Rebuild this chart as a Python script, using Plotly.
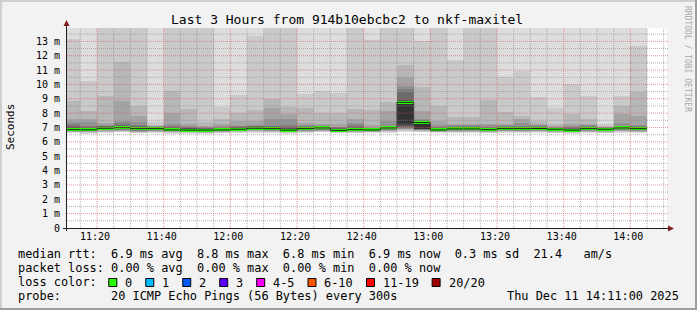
import plotly.graph_objects as go
import pandas as pd

# ---------------- data ----------------
bin_starts = pd.date_range('2025-12-11 11:10:00', periods=35, freq='5min')

median_rtt = [6.85, 6.84, 6.95, 6.99, 6.92, 6.92, 6.83, 6.82, 6.82, 6.83, 6.88, 6.95, 6.92, 6.82, 6.92, 6.97, 6.80,
              6.85, 6.83, 6.97, 8.75, 7.34, 6.83, 6.90, 6.90, 6.85, 6.92, 6.92, 6.93, 6.88, 6.82, 6.92, 6.88, 6.97, 6.92]
# upper part of the ping distribution (sorted pings 12..20 of 20)
p12 = [6.95, 6.92, 7.00, 7.05, 6.97, 6.95, 6.90, 6.88, 6.86, 6.88, 6.93, 6.99, 6.97, 6.88, 6.96, 7.00, 6.86,
       6.90, 6.87, 7.02, 8.85, 7.38, 6.87, 6.94, 6.94, 6.90, 6.96, 6.96, 6.97, 6.91, 6.87, 6.96, 6.91, 7.00, 6.96]
p13 = [7.03, 6.98, 7.04, 7.12, 7.02, 6.98, 6.96, 6.94, 6.90, 6.93, 6.98, 7.03, 7.02, 6.94, 7.00, 7.03, 6.92,
       6.96, 6.90, 7.06, 8.95, 7.42, 6.92, 6.98, 6.98, 6.95, 7.00, 7.00, 7.00, 6.94, 6.92, 7.00, 6.94, 7.04, 7.00]
p14 = [7.13, 7.05, 7.08, 7.20, 7.08, 7.02, 7.01, 7.00, 6.95, 6.97, 7.03, 7.08, 7.07, 7.01, 7.06, 7.06, 6.98,
       7.03, 6.94, 7.10, 9.45, 7.45, 6.96, 7.03, 7.03, 7.00, 7.05, 7.05, 7.04, 6.97, 6.97, 7.04, 6.97, 7.08, 7.05]
p15 = [7.25, 7.13, 7.12, 7.28, 7.15, 7.06, 7.10, 7.06, 7.00, 7.00, 7.08, 7.13, 7.13, 7.20, 7.13, 7.10, 7.03,
       7.15, 6.97, 7.13, 9.70, 7.50, 7.01, 7.08, 7.08, 7.05, 7.10, 7.13, 7.08, 7.00, 7.02, 7.10, 7.00, 7.13, 7.10]
p16 = [7.36, 7.36, 7.20, 7.48, 7.36, 7.10, 7.25, 7.12, 7.06, 7.10, 7.13, 7.20, 7.59, 7.59, 7.20, 7.15, 7.06,
       7.30, 7.00, 7.48, 9.91, 7.59, 7.20, 7.15, 7.15, 7.15, 7.15, 7.30, 7.15, 7.01, 7.10, 7.18, 7.02, 7.30, 7.20]
p17 = [7.59, 7.59, 7.34, 8.87, 7.83, 7.13, 7.99, 7.25, 7.13, 7.25, 7.48, 7.48, 8.36, 7.94, 7.34, 7.25, 7.25,
       7.59, 7.20, 8.13, 10.49, 8.13, 7.48, 7.25, 7.25, 7.25, 7.25, 7.59, 7.25, 7.10, 7.25, 7.25, 7.05, 7.94, 7.83]
p18 = [8.87, 8.13, 9.22, 11.53, 8.52, 7.20, 9.56, 8.29, 7.36, 7.59, 7.99, 8.22, 8.98, 8.45, 8.36, 7.99, 7.99,
       8.29, 8.22, 8.75, 11.37, 9.84, 8.52, 7.71, 7.71, 8.91, 8.06, 7.83, 7.48, 7.25, 7.94, 7.60, 7.10, 8.52, 9.45]
p19 = [13.16, 10.26, 15.0, 15.0, 15.0, 7.36, 15.0, 15.0, 15.0, 8.40, 9.27, 13.39, 15.0, 15.0, 9.33, 9.56, 9.38,
       15.0, 13.09, 15.0, 15.0, 13.04, 15.0, 11.70, 15.0, 15.0, 10.49, 10.97, 9.10, 8.36, 10.03, 9.22, 7.25, 9.22, 12.69]
p20 = [16.0, 16.0, 16.0, 16.0, 16.0, 16.0, 16.0, 16.0, 16.0, 16.0, 16.0, 16.0, 16.0, 16.0, 16.0, 16.0, 16.0,
       16.0, 16.0, 16.0, 16.0, 16.0, 16.0, 16.0, 16.0, 16.0, 16.0, 16.0, 16.0, 16.0, 16.0, 16.0, 16.0, 16.0, 16.0]
# lower part of the ping distribution (sorted pings 1..10 of 20)
p01 = [6.62, 6.58, 6.62, 6.66, 6.60, 6.62, 6.58, 6.56, 6.55, 6.60, 6.62, 6.64, 6.62, 6.58, 6.60, 6.66, 6.60,
       6.60, 6.62, 6.64, 6.70, 6.66, 6.62, 6.60, 6.62, 6.60, 6.64, 6.62, 6.64, 6.60, 6.58, 6.62, 6.60, 6.64, 6.62]
p02 = [6.66, 6.63, 6.67, 6.71, 6.65, 6.67, 6.64, 6.62, 6.61, 6.65, 6.67, 6.70, 6.67, 6.63, 6.66, 6.71, 6.64,
       6.65, 6.67, 6.70, 6.76, 6.72, 6.67, 6.66, 6.67, 6.65, 6.69, 6.67, 6.69, 6.65, 6.63, 6.67, 6.65, 6.70, 6.67]
p03 = [6.69, 6.67, 6.72, 6.75, 6.69, 6.71, 6.68, 6.66, 6.65, 6.69, 6.71, 6.74, 6.71, 6.67, 6.70, 6.75, 6.67,
       6.69, 6.70, 6.74, 6.82, 6.76, 6.70, 6.70, 6.71, 6.69, 6.73, 6.71, 6.73, 6.69, 6.67, 6.71, 6.69, 6.74, 6.71]
p04 = [6.72, 6.70, 6.76, 6.79, 6.72, 6.75, 6.71, 6.69, 6.68, 6.72, 6.74, 6.78, 6.74, 6.70, 6.74, 6.79, 6.70,
       6.72, 6.72, 6.78, 6.88, 6.80, 6.72, 6.74, 6.74, 6.72, 6.76, 6.74, 6.76, 6.72, 6.70, 6.74, 6.72, 6.78, 6.74]
p05 = [6.74, 6.73, 6.80, 6.83, 6.76, 6.78, 6.73, 6.72, 6.71, 6.74, 6.77, 6.82, 6.77, 6.72, 6.77, 6.83, 6.72,
       6.75, 6.74, 6.82, 6.93, 6.83, 6.74, 6.77, 6.77, 6.74, 6.79, 6.77, 6.79, 6.75, 6.72, 6.77, 6.75, 6.82, 6.77]
p06 = [6.76, 6.75, 6.83, 6.86, 6.79, 6.81, 6.75, 6.74, 6.73, 6.76, 6.80, 6.85, 6.80, 6.74, 6.80, 6.86, 6.74,
       6.78, 6.76, 6.85, 6.98, 6.86, 6.76, 6.80, 6.80, 6.76, 6.82, 6.80, 6.82, 6.78, 6.74, 6.80, 6.78, 6.85, 6.80]
p07 = [6.78, 6.77, 6.86, 6.89, 6.82, 6.84, 6.77, 6.76, 6.75, 6.78, 6.82, 6.88, 6.83, 6.76, 6.83, 6.89, 6.75,
       6.80, 6.78, 6.88, 7.04, 6.88, 6.78, 6.83, 6.83, 6.78, 6.85, 6.83, 6.85, 6.81, 6.76, 6.83, 6.81, 6.88, 6.83]
p08 = [6.80, 6.79, 6.89, 6.92, 6.85, 6.86, 6.79, 6.78, 6.77, 6.80, 6.84, 6.90, 6.86, 6.78, 6.86, 6.92, 6.77,
       6.82, 6.80, 6.91, 7.10, 6.90, 6.80, 6.85, 6.85, 6.80, 6.87, 6.86, 6.87, 6.83, 6.77, 6.86, 6.83, 6.91, 6.86]
p09 = [6.82, 6.81, 6.92, 6.95, 6.88, 6.88, 6.81, 6.80, 6.79, 6.81, 6.86, 6.92, 6.89, 6.79, 6.89, 6.94, 6.78,
       6.83, 6.81, 6.94, 7.20, 6.92, 6.81, 6.87, 6.87, 6.82, 6.89, 6.89, 6.90, 6.85, 6.79, 6.89, 6.85, 6.94, 6.89]
p10 = [6.84, 6.83, 6.94, 6.97, 6.90, 6.90, 6.82, 6.81, 6.80, 6.82, 6.87, 6.94, 6.91, 6.80, 6.91, 6.96, 6.79,
       6.84, 6.82, 6.96, 7.28, 6.93, 6.82, 6.89, 6.89, 6.84, 6.91, 6.91, 6.92, 6.87, 6.81, 6.91, 6.87, 6.96, 6.91]

y_tick_values = list(range(14))
y_tick_labels = ['0'] + ['%d m' % v for v in range(1, 14)]
x_tick_labels = ['11:20', '11:40', '12:00', '12:20', '12:40', '13:00', '13:20', '13:40', '14:00']

title_text = 'Last 3 Hours from 914b10ebcbc2 to nkf-maxitel'
legend_lines = [
    'median rtt:  6.9 ms avg  8.8 ms max  6.8 ms min  6.9 ms now  0.3 ms sd  21.4   am/s',
    'packet loss: 0.00 % avg  0.00 % max  0.00 % min  0.00 % now',
    'loss color:',
    'probe:       20 ICMP Echo Pings (56 Bytes) every 300s',
]
loss_labels = ['0', '1', '2', '3', '4-5', '6-10', '11-19', '20/20']
loss_colors = ['#26ff00', '#00b8ff', '#0059ff', '#5e00ff', '#ff00ff', '#ff5500', '#ff0000', '#a10000']
date_text = 'Thu Dec 11 14:11:00 2025'

# ---------------- geometry ----------------
W, H = 697, 310
L, R, T, B = 67, 30, 28, 82
PW, PH = W - L - R, H - T - B
Y_MAX = 13.93
X0 = pd.Timestamp('2025-12-11 11:11:00')
X1 = pd.Timestamp('2025-12-11 14:11:00')


def px(x):
    return (x - L) / PW


def py(y):
    return (H - B - y) / PH


MONO = 'DejaVu Sans Mono'
centers = bin_starts + pd.Timedelta(seconds=150)
BIN_MS = 300000

lows = [p01, p02, p03, p04, p05, p06, p07, p08, p09, p10]
highs = [p20, p19, p18, p17, p16, p15, p14, p13, p12, median_rtt]
shades = [221, 202, 183, 164, 145, 126, 107, 88, 69, 50]

fig = go.Figure()
for lo, hi, s in zip(lows, highs, shades):
    fig.add_trace(go.Bar(
        x=centers, base=lo, y=[h - l for h, l in zip(hi, lo)], width=BIN_MS,
        marker=dict(color='rgb(%d,%d,%d)' % (s, s, s), line=dict(width=0)),
        showlegend=False, hoverinfo='skip'))

# step line at the median (shows the vertical transitions)
step_x = list(bin_starts) + [bin_starts[-1] + pd.Timedelta(minutes=5)]
step_y = list(median_rtt) + [median_rtt[-1]]
fig.add_trace(go.Scatter(x=step_x, y=step_y, mode='lines', line=dict(color='#202020', width=1, shape='hv'),
                         showlegend=False, hoverinfo='skip'))

# median strip coloured by loss (0 loss -> green)
strip = 0.21
fig.add_trace(go.Bar(
    x=centers, base=[m - strip / 2 for m in median_rtt], y=[strip] * len(median_rtt), width=BIN_MS,
    marker=dict(color=loss_colors[0], line=dict(width=0)), showlegend=False, hoverinfo='skip'))

shapes = []
MINOR = 'rgba(140,140,140,0.65)'
MAJOR = 'rgba(222,79,79,0.6)'
DASH = '1px,1px'
# horizontal grid
for i in range(1, int(Y_MAX * 2) + 1):
    v = i / 2
    major = (i % 2 == 0)
    shapes.append(dict(type='line', xref='paper', yref='y', x0=0, x1=px(668), y0=v, y1=v,
                       line=dict(color=MAJOR if major else MINOR, width=1, dash=DASH), layer='above'))
# vertical grid
t = pd.Timestamp('2025-12-11 11:15:00')
while t < X1:
    major = (t.minute % 20 == 0)
    shapes.append(dict(type='line', xref='x', yref='paper', x0=t, x1=t, y0=0, y1=1,
                       line=dict(color=MAJOR if major else MINOR, width=1, dash=DASH), layer='above'))
    t += pd.Timedelta(minutes=5)

AX = '#1f1f1f'
ARROW = '#801f1f'
# axes
shapes.append(dict(type='line', xref='paper', yref='paper', x0=px(66.5), x1=px(66.5), y0=py(231), y1=py(24),
                   line=dict(color=AX, width=1), layer='above'))
shapes.append(dict(type='line', xref='paper', yref='paper', x0=px(63), x1=px(669), y0=py(228.5), y1=py(228.5),
                   line=dict(color=AX, width=1), layer='above'))


def path(points):
    return 'M ' + ' L '.join('%f,%f' % (px(a), py(b)) for a, b in points) + ' Z'


shapes.append(dict(type='path', xref='paper', yref='paper', path=path([(63.5, 26), (69.5, 26), (66.5, 20)]),
                   fillcolor=ARROW, line=dict(width=0), layer='above'))
shapes.append(dict(type='path', xref='paper', yref='paper', path=path([(668, 225.5), (668, 231.5), (674, 228.5)]),
                   fillcolor=ARROW, line=dict(width=0), layer='above'))

# legend colour boxes
annotations = []
bx = 108.3
for lab, col in zip(loss_labels, loss_colors):
    shapes.append(dict(type='rect', xref='paper', yref='paper', x0=px(bx + 0.5), x1=px(bx + 8.5),
                       y0=py(286.5), y1=py(278.5), fillcolor=col, line=dict(color='black', width=1)))
    annotations.append(dict(x=px(bx + 15), y=py(282.5), xref='paper', yref='paper', text=lab, showarrow=False,
                            xanchor='left', yanchor='middle', font=dict(family=MONO, size=11.9, color='black')))
    bx += 29.8 + 7.17 * len(lab)

# frame
shapes.append(dict(type='rect', xref='paper', yref='paper', x0=px(0), x1=px(697), y0=py(0), y1=py(2),
                   fillcolor='#cfcfcf', line=dict(width=0)))
shapes.append(dict(type='rect', xref='paper', yref='paper', x0=px(0), x1=px(2), y0=py(0), y1=py(310),
                   fillcolor='#cfcfcf', line=dict(width=0)))
shapes.append(dict(type='rect', xref='paper', yref='paper', x0=px(695), x1=px(697), y0=py(0), y1=py(310),
                   fillcolor='#9e9e9e', line=dict(width=0)))
shapes.append(dict(type='rect', xref='paper', yref='paper', x0=px(0), x1=px(697), y0=py(308), y1=py(310),
                   fillcolor='#9e9e9e', line=dict(width=0)))

NB = '\u00a0'
annotations.append(dict(x=px(347), y=py(19), xref='paper', yref='paper', text=title_text, showarrow=False,
                        xanchor='center', yanchor='middle', font=dict(family=MONO, size=13, color='black')))
for i, line in enumerate(legend_lines):
    annotations.append(dict(x=px(16), y=py(254.3 + 14 * i), xref='paper', yref='paper',
                            text=line.replace(' ', NB), showarrow=False, xanchor='left', yanchor='middle',
                            font=dict(family=MONO, size=11.9, color='black')))
annotations.append(dict(x=px(681), y=py(296.3), xref='paper', yref='paper', text=date_text.replace(' ', NB),
                        showarrow=False, xanchor='right', yanchor='middle',
                        font=dict(family=MONO, size=11.9, color='black')))
annotations.append(dict(x=px(10), y=py(127), xref='paper', yref='paper', text='Seconds', showarrow=False,
                        textangle=-90, xanchor='center', yanchor='middle',
                        font=dict(family=MONO, size=11, color='black')))
annotations.append(dict(x=px(688), y=py(59), xref='paper', yref='paper', text='RRDTOOL / TOBI OETIKER',
                        showarrow=False, textangle=90, xanchor='center', yanchor='middle',
                        font=dict(family=MONO, size=8, color='#a8a8a8')))

x_tick_vals = [pd.Timestamp('2025-12-11 ' + s) - pd.Timedelta(seconds=36) for s in x_tick_labels]

fig.update_layout(
    width=W, height=H, margin=dict(l=L, r=R, t=T, b=B, pad=0),
    paper_bgcolor='#f2f2f2', plot_bgcolor='white',
    barmode='overlay', bargap=0, showlegend=False,
    shapes=shapes, annotations=annotations,
    xaxis=dict(type='date', range=[X0, X1], tickvals=x_tick_vals, ticktext=x_tick_labels,
               showgrid=False, zeroline=False, showline=False, ticks='', ticklabelstandoff=1,
               tickfont=dict(family=MONO, size=10, color='black'), fixedrange=True),
    yaxis=dict(range=[0, Y_MAX], tickvals=y_tick_values, ticktext=y_tick_labels,
               showgrid=False, zeroline=False, showline=False, ticks='', ticklabelstandoff=6,
               tickfont=dict(family=MONO, size=10, color='black'), fixedrange=True),
)

fig.write_html('out.html')
